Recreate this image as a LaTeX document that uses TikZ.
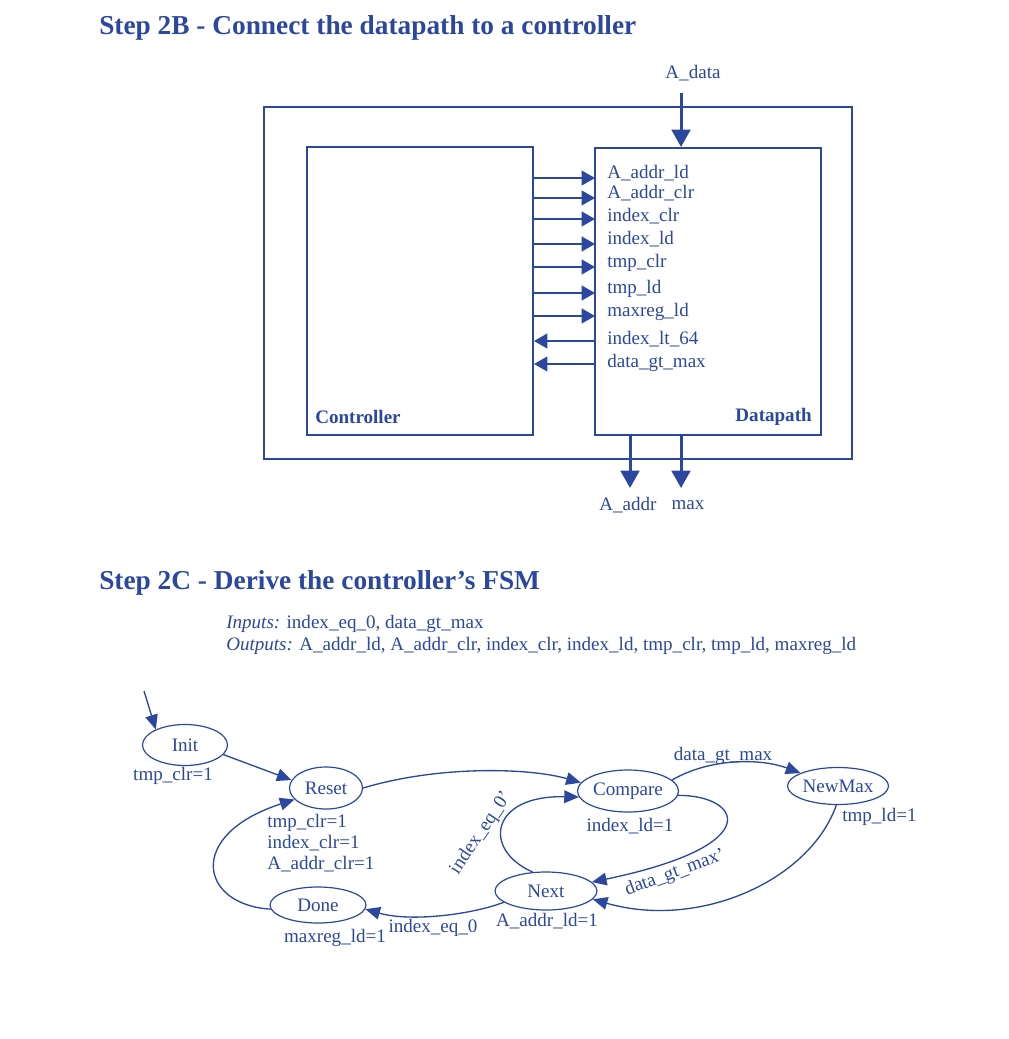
\documentclass[tikz,border=0pt]{standalone}
\usepackage{fontspec}
\setmainfont{Liberation Serif}
\usepackage{tikz}
\usetikzlibrary{arrows.meta,shapes.geometric}
\definecolor{dblue}{RGB}{44,72,158}
\tikzset{
blk/.style = {rectangle, draw=dblue, line width=1.5pt, minimum width=#1},
blk/.default = 169.5pt, % width of the two inner boxes
fsmstate/.style = {ellipse, draw=dblue, line width=0.9pt, inner sep=0pt,
              text=dblue, font=\fontsize{14.3}{16}\selectfont},
sig/.style = {draw=dblue, line width=1.5pt, -{Triangle[length=10pt,width=11pt]}},
bus/.style = {draw=dblue, line width=2.25pt, -{Triangle[length=13pt,width=14pt]}},
trans/.style = {draw=dblue, line width=1pt, -{Triangle[length=11pt,width=9.5pt]}},
txt/.style = {text=dblue, inner sep=0pt, font=\fontsize{14.3}{15.75}\selectfont},
heading/.style = {text=dblue, inner sep=0pt, anchor=west,
              font=\bfseries\fontsize{20.5}{24}\selectfont}
}

\begin{document}
\begin{tikzpicture}[x=0.75pt, y=-0.75pt]
    \useasboundingbox (0,0) rectangle (1008,1039);

    % Step 2B
    \node[heading] (title2b) at (99,28) {Step 2B - Connect the datapath to a controller};
    \node[blk=441pt, minimum height=264pt] (chip) at (558,283) {};
    \node[blk, minimum height=216pt] (ctrl) at (420,291) {};
    \node[blk, minimum height=215.25pt] (dp) at (708,291.5) {};
    \node[txt, anchor=west, font=\bfseries\fontsize{14.3}{16}\selectfont] (ctrlName) at (315,417) {Controller};
    \node[txt, anchor=east, font=\bfseries\fontsize{14.3}{16}\selectfont] (dpName) at (812,417) {Datapath};

    \node[txt] (adata) at (693,73) {A\_data};
    \coordinate (adataIn) at (681,93);
    \draw[bus] (adataIn) -- (dp.north -| adataIn);

    \foreach \yl/\ya/\name in {173/178/A\_addr\_ld, 193/198/A\_addr\_clr, 216/219/index\_clr,
                                239/244/index\_ld, 263/267/tmp\_clr, 289/293/tmp\_ld,
                                312/316/maxreg\_ld}{
        \node[txt, anchor=west] at (607,\yl) {\name};
        \coordinate (in) at (595,\ya);
        \draw[sig] (ctrl.east |- in) -- (in);
    }
    \foreach \yl/\ya/\name in {339/341/index\_lt\_64, 363/364/data\_gt\_max}{
        \node[txt, anchor=west] at (607,\yl) {\name};
        \coordinate (out) at (595,\ya);
        \draw[sig] (out) -- (ctrl.east |- out);
    }

    \coordinate (aaddrOut) at (630,488);
    \coordinate (maxOut) at (681,488);
    \draw[bus] (dp.south -| aaddrOut) -- (aaddrOut);
    \draw[bus] (dp.south -| maxOut) -- (maxOut);
    \node[txt] (aaddr) at (628,505) {A\_addr};
    \node[txt] (maxLbl) at (688,505) {max};

    % Step 2C
    \node[heading] (title2c) at (99,583) {Step 2C - Derive the controller's FSM};
    \node[txt, anchor=west] (inputs) at (226,624) {\textit{Inputs:} index\_eq\_0, data\_gt\_max};
    \node[txt, anchor=west] (outputs) at (226,646) {\textit{Outputs:} A\_addr\_ld, A\_addr\_clr, index\_clr, index\_ld, tmp\_clr, tmp\_ld, maxreg\_ld};

    \node[fsmstate, minimum width=63.75pt, minimum height=30.75pt] (init) at (185,745) {Init};
    \node[fsmstate, minimum width=54.75pt, minimum height=31.5pt] (reset) at (326,788) {Reset};
    \node[fsmstate, minimum width=72pt, minimum height=27pt] (done) at (318,905) {Done};
    \node[fsmstate, minimum width=76.5pt, minimum height=28.5pt] (next) at (546,891) {Next};
    \node[fsmstate, minimum width=75.75pt, minimum height=31.5pt] (compare) at (628,791) {Compare};
    \node[fsmstate, minimum width=75.75pt, minimum height=27.75pt] (newmax) at (838,786) {NewMax};

    \node[txt] (initOut) at (173,776) {tmp\_clr=1};
    \node[txt, anchor=west, align=left] (resetOut) at (267,843) {tmp\_clr=1\\index\_clr=1\\A\_addr\_clr=1};
    \node[txt] (doneOut) at (335,938) {maxreg\_ld=1};
    \node[txt] (nextOut) at (547,921) {A\_addr\_ld=1};
    \node[txt] (compareOut) at (630,826) {index\_ld=1};
    \node[txt, anchor=west] (newmaxOut) at (842,817) {tmp\_ld=1};

    \coordinate (start) at (144,691);
    \draw[trans] (start) -- (init.152);
    \draw[trans] (init.-14) -- (reset.167);
    \draw[trans] (reset.east) .. controls (440,765) and (530,768) .. (compare.170);
    \draw[trans] (compare.14) .. controls (710,758) and (760,758) .. (newmax.161);
    \draw[trans] (compare.-5) .. controls (740,795) and (770,845) .. (next.11);
    \draw[trans] (next.125) .. controls (482,850) and (490,795) .. (compare.187);
    \draw[trans] (newmax.-95) .. controls (810,880) and (700,930) .. (next.-10);
    \draw[trans] (next.195) .. controls (470,915) and (410,922) .. (done.-5);
    \draw[trans] (done.185) .. controls (200,905) and (185,835) .. (reset.200);

    \node[txt] (dgm) at (723,756) {data\_gt\_max};
    \node[txt, rotate=20] (dgmNot) at (675,873) {data\_gt\_max'};
    \node[txt, rotate=56] (ieqNot) at (481,833) {index\_eq\_0'};
    \node[txt] (ieq) at (433,928) {index\_eq\_0};
\end{tikzpicture}
\end{document}
